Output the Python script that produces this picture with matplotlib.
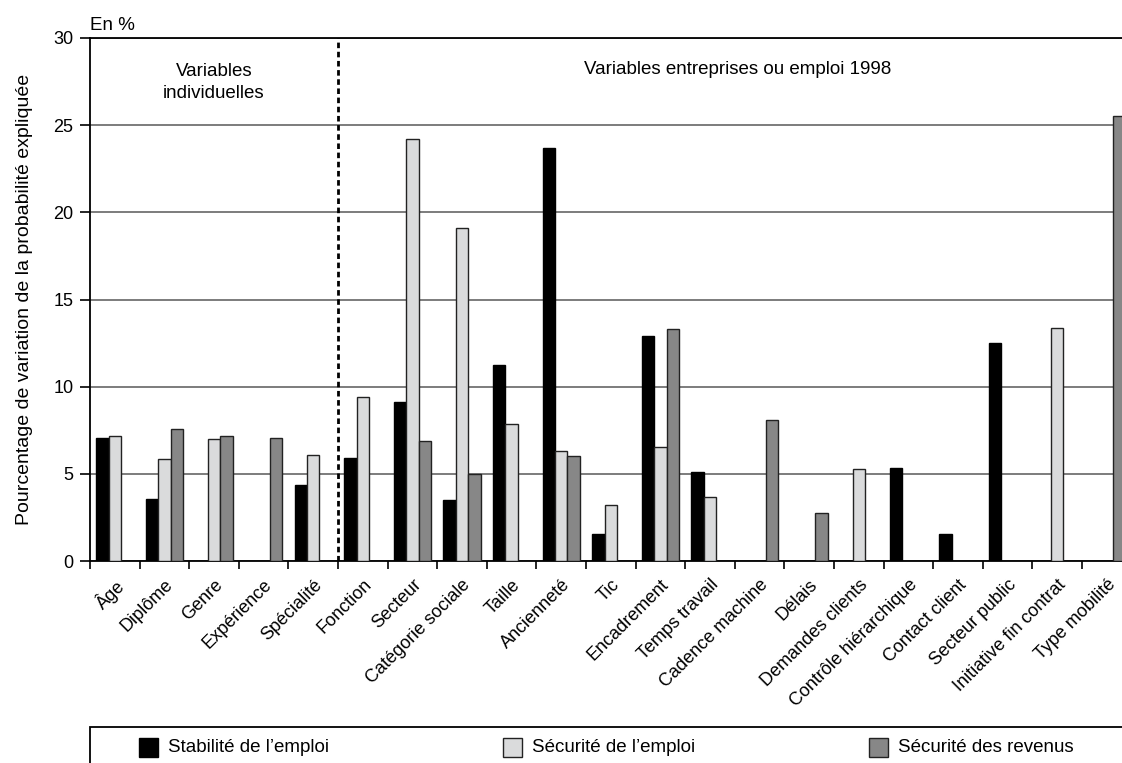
import numpy as np
import matplotlib
matplotlib.use("Agg")
import matplotlib.pyplot as plt
from matplotlib.patches import Rectangle

plt.rcParams['font.family'] = ['Liberation Sans', 'DejaVu Sans']

categories = ["Âge", "Diplôme", "Genre", "Expérience", "Spécialité",
              "Fonction", "Secteur", "Catégorie sociale", "Taille", "Ancienneté",
              "Tic", "Encadrement", "Temps travail", "Cadence machine", "Délais",
              "Demandes clients", "Contrôle hiérarchique", "Contact client",
              "Secteur public", "Initiative fin contrat", "Type mobilité"]

nan = np.nan
stabilite_emploi = [7.04, 3.57, nan, nan, 4.34,
                    5.9, 9.14, 3.5, 11.25, 23.68,
                    1.55, 12.93, 5.09, nan, nan,
                    nan, 5.34, 1.53, 12.49, nan, nan]
securite_emploi = [7.17, 5.83, 7.02, nan, 6.1,
                   9.4, 24.23, 19.12, 7.86, 6.33,
                   3.23, 6.56, 3.69, nan, nan,
                   5.28, nan, nan, nan, 13.35, nan]
securite_revenus = [nan, 7.57, 7.17, 7.04, nan,
                    nan, 6.88, 4.97, nan, 6.04,
                    nan, 13.29, nan, 8.09, 2.77,
                    nan, nan, nan, nan, nan, 25.55]

series = [
    ("Stabilité de l\u2019emploi", stabilite_emploi, "#000000", "#000000"),
    ("Sécurité de l\u2019emploi", securite_emploi, "#dadbdc", "#222222"),
    ("Sécurité des revenus", securite_revenus, "#878787", "#222222"),
]

W, H = 1122, 763


def fx(px):
    return px / W


def fy(py):
    return 1 - py / H


fig = plt.figure(figsize=(W / 100, H / 100), dpi=100)
ax = fig.add_axes([0.0802, 0.2647, 0.9283, 0.6855])

x = np.arange(len(categories))
w = 0.25
for i, (name, vals, fc, ec) in enumerate(series):
    ax.bar(x + (i - 1) * w, vals, width=w, color=fc, edgecolor=ec,
           linewidth=1.0, zorder=3)

ax.set_xlim(-0.5, len(categories) - 0.5)
ax.set_ylim(0, 30)
ax.set_yticks(range(0, 31, 5))
ax.yaxis.grid(True, color="#666666", linewidth=1.2, zorder=0)
ax.set_axisbelow(True)

ax.set_xticks(x)
ax.set_xticklabels(categories, rotation=45, ha="right", rotation_mode="anchor",
                   fontsize=13)
ax.set_xticks(np.arange(-0.5, len(categories), 1), minor=True)
ax.tick_params(axis="x", which="major", length=0, pad=11)
ax.tick_params(axis="x", which="minor", length=6, width=1.2, direction="out")
ax.tick_params(axis="y", length=7, width=1.2, labelsize=13, pad=5)

for s in ["left", "bottom", "top"]:
    ax.spines[s].set_linewidth(1.3)
    ax.spines[s].set_color("black")
ax.spines["right"].set_visible(False)

# separation between individual and company variables
ax.axvline(4.5, color="black", linestyle=(0, (2, 1.3)), linewidth=2.0, zorder=4)

ax.text(2.0, 27.45, "Variables\nindividuelles", ha="center", va="center",
        fontsize=13.5, linespacing=1.45)
ax.text(12.56, 28.2, "Variables entreprises ou emploi 1998", ha="center",
        va="center", fontsize=13.5)

ax.set_ylabel("Pourcentage de variation de la probabilité expliquée",
              fontsize=14)
ax.yaxis.set_label_coords(-0.055, 0.5)
fig.text(fx(90), fy(25), "En %", ha="left", va="center", fontsize=13.5)

# legend box, drawn by hand (runs off the bottom and right of the picture)
fig.add_artist(Rectangle((fx(90), fy(800)), fx(1200) - fx(90), fy(727) - fy(800),
                         transform=fig.transFigure, facecolor="none",
                         edgecolor="black", linewidth=1.3))
leg_x = [139, 503, 869]
for (name, vals, fc, ec), lx in zip(series, leg_x):
    fig.add_artist(Rectangle((fx(lx), fy(757)), fx(19), 19 / H,
                             transform=fig.transFigure, facecolor=fc,
                             edgecolor=ec, linewidth=1.0))
    fig.text(fx(lx + 29), fy(747.5), name, ha="left", va="center", fontsize=13.5)

fig.savefig("out.png", dpi=100)
